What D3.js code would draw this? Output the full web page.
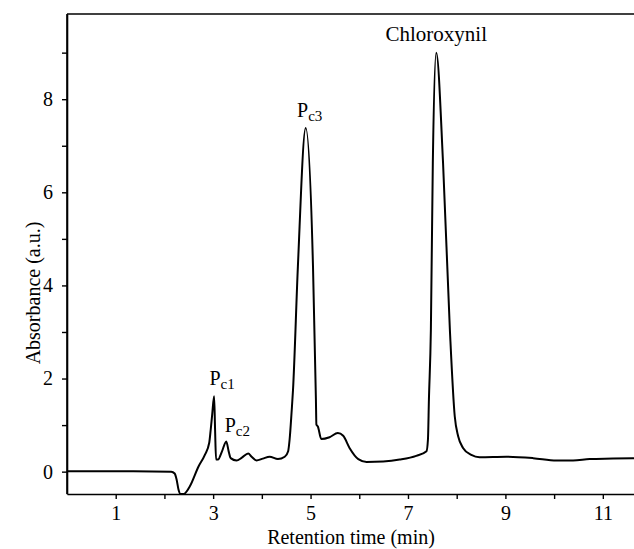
<!DOCTYPE html>
<html>
<head>
<meta charset="utf-8">
<script src="https://cdn.jsdelivr.net/npm/d3@7"></script>
<style>
  html, body { margin: 0; padding: 0; background: #fff; }
  svg { display: block; }
</style>
</head>
<body>
<svg id="chart" width="634" height="549"></svg>
<script>
// Retention time (min)
const times = [0, 1.08, 2.14, 2.21, 2.25, 2.29, 2.33, 2.40, 2.52, 2.70, 2.83, 2.92, 2.95, 2.98, 3.02,
  3.04, 3.06, 3.10, 3.18, 3.27, 3.32, 3.36, 3.48, 3.59, 3.72, 3.79, 3.89, 4.02, 4.16, 4.33, 4.47,
  4.54, 4.57, 4.61, 4.64, 4.74, 4.90, 5.05, 5.11, 5.12, 5.15, 5.22, 5.39, 5.56, 5.67, 5.80, 5.98,
  6.15, 6.49, 6.83, 7.17, 7.38, 7.41, 7.43, 7.47, 7.51, 7.58, 7.72, 7.86, 7.96, 8.03, 8.13, 8.30,
  8.47, 9.02, 9.57, 10.05, 10.39, 10.73, 11.21, 11.64];
// Absorbance (a.u.)
const absorbance = [0.01, 0.01, 0.0, -0.04, -0.17, -0.39, -0.48, -0.48, -0.32, 0.11, 0.36, 0.62, 0.90, 1.22, 1.62,
  0.90, 0.26, 0.26, 0.43, 0.65, 0.43, 0.29, 0.24, 0.30, 0.39, 0.32, 0.24, 0.28, 0.32, 0.27, 0.32,
  0.44, 0.69, 1.27, 1.76, 4.41, 7.38, 4.41, 1.55, 1.01, 0.97, 0.70, 0.74, 0.83, 0.77, 0.51, 0.27,
  0.21, 0.22, 0.26, 0.34, 0.44, 0.69, 1.55, 3.05, 6.63, 9.00, 6.63, 3.05, 1.19, 0.76, 0.51, 0.36,
  0.31, 0.32, 0.29, 0.24, 0.24, 0.27, 0.28, 0.29];

const xMajorTicks = [1, 3, 5, 7, 9, 11];
const xMinorTicks = [2, 4, 6, 8, 10];
const yMajorTicks = [0, 2, 4, 6, 8];
const yMinorTicks = [1, 3, 5, 7, 9];

// Peak labels
const peakNames = ["P", "P", "P", "Chloroxynil"];
const peakSubs = ["c1", "c2", "c3", ""];
const peakTimes = [3.02, 3.27, 4.90, 7.58];
const peakValues = [1.62, 0.65, 7.38, 9.00];

const xLabel = "Retention time (min)";
const yLabel = "Absorbance (a.u.)";

const FONT = "'Liberation Serif', 'Times New Roman', serif";
const svg = d3.select("#chart");
const mLeft = 67, mRight = 634, mTop = 14, mBottom = 494;

const x = d3.scaleLinear().domain([0, 11.64]).range([mLeft, mRight]);
const y = d3.scaleLinear().domain([-0.48, 9.83]).range([mBottom, mTop]);

// X axis
svg.append("g").attr("transform", `translate(0,${mBottom})`)
  .call(d3.axisBottom(x).tickValues(xMajorTicks).tickFormat(d3.format("d")).tickSizeInner(5).tickSizeOuter(0).tickPadding(7));
svg.append("g").attr("transform", `translate(0,${mBottom})`)
  .call(d3.axisBottom(x).tickValues(xMinorTicks).tickFormat("").tickSizeInner(5).tickSizeOuter(0))
  .select(".domain").remove();

// Y axis
svg.append("g").attr("transform", `translate(${mLeft},0)`)
  .call(d3.axisLeft(y).tickValues(yMajorTicks).tickFormat(d3.format("d")).tickSizeInner(5).tickSizeOuter(0).tickPadding(9));
svg.append("g").attr("transform", `translate(${mLeft},0)`)
  .call(d3.axisLeft(y).tickValues(yMinorTicks).tickFormat("").tickSizeInner(5).tickSizeOuter(0))
  .select(".domain").remove();

svg.selectAll(".domain").attr("stroke", "#000").attr("stroke-width", 1.6);
svg.selectAll(".tick line").attr("stroke", "#000").attr("stroke-width", 1.4);
svg.selectAll(".tick text").style("font-family", FONT).style("font-size", "20px").attr("fill", "#000");

// Top border and full left axis
svg.append("line").attr("x1", mLeft).attr("x2", mRight).attr("y1", mTop).attr("y2", mTop)
  .attr("stroke", "#000").attr("stroke-width", 1.6);
svg.append("line").attr("x1", mLeft).attr("x2", mLeft).attr("y1", mTop).attr("y2", mBottom)
  .attr("stroke", "#000").attr("stroke-width", 1.6);

// Curve
const pts = times.map((t, i) => [t, absorbance[i]]);
const line = d3.line().x(d => x(d[0])).y(d => y(d[1])).curve(d3.curveMonotoneX);
svg.append("path").datum(pts).attr("d", line)
  .attr("fill", "none").attr("stroke", "#000").attr("stroke-width", 2).attr("stroke-linejoin", "round");

// Peak labels
const offsets = [[8, -11], [11, -9], [4, -11], [0, -12]];
const labelSizes = [20, 20, 20, 21];
peakNames.forEach((n, i) => {
  const t = svg.append("text")
    .attr("x", x(peakTimes[i]) + offsets[i][0])
    .attr("y", y(peakValues[i]) + offsets[i][1])
    .attr("text-anchor", "middle")
    .style("font-family", FONT).style("font-size", labelSizes[i] + "px").attr("fill", "#000");
  t.append("tspan").text(n);
  if (peakSubs[i]) {
    t.append("tspan").style("font-size", "15px").attr("dy", 4).text(peakSubs[i]);
  }
});

// Axis titles
svg.append("text").attr("x", 351).attr("y", 544).attr("text-anchor", "middle")
  .style("font-family", FONT).style("font-size", "20px").attr("fill", "#000").text(xLabel);
svg.append("text").attr("transform", "translate(40,293) rotate(-90)").attr("text-anchor", "middle")
  .style("font-family", FONT).style("font-size", "20px").attr("fill", "#000").text(yLabel);
</script>
</body>
</html>
